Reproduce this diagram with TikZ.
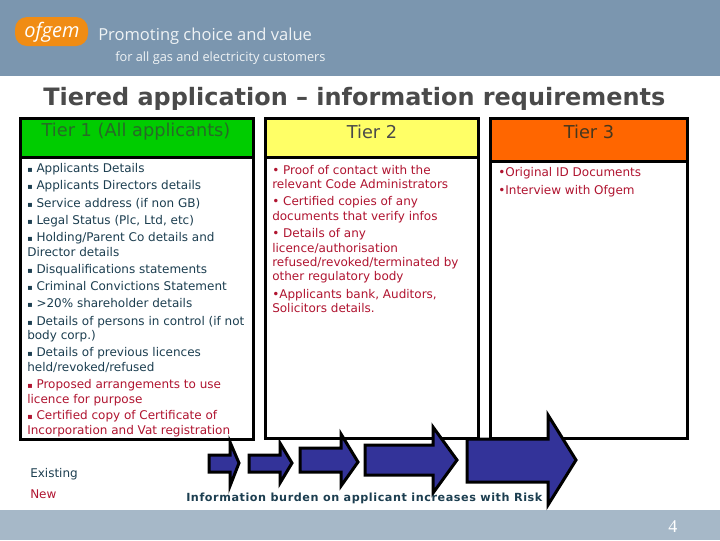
\documentclass[tikz,border=0pt]{standalone}
\usepackage{fontspec}
\setmainfont{DejaVu Sans}
\newfontfamily\logofont{Open Sans}
\newfontfamily\numfont{Liberation Serif}
\definecolor{bandtop}{RGB}{123,150,175}
\definecolor{bandbot}{RGB}{166,184,200}
\definecolor{logoorange}{RGB}{240,140,20}
\definecolor{tiergreen}{RGB}{0,204,0}
\definecolor{tieryellow}{RGB}{255,255,102}
\definecolor{tierorange}{RGB}{255,102,0}
\definecolor{arrowblue}{RGB}{51,51,153}
\definecolor{tealtext}{RGB}{28,62,80}
\definecolor{redtext}{RGB}{176,20,48}
\definecolor{greytext}{RGB}{74,74,74}
\newcommand{\tb}{{\fontsize{6}{6}\selectfont ▪} }
\tikzset{
  tierbox/.style={draw=black,line width=2.25pt},
  burden/.style={draw=black,line width=2.25pt,fill=arrowblue},
  txt/.style={anchor=base west,inner sep=0pt,font=\fontsize{9}{10}\selectfont},
  existing/.style={txt,text=tealtext},
  newitem/.style={txt,text=redtext},
  tierhead/.style={anchor=base,inner sep=0pt,font=\fontsize{13.3}{15}\selectfont},
}

\begin{document}
\begin{tikzpicture}[x=0.75pt,y=0.75pt,yscale=-1,xscale=1]
\useasboundingbox (0,0) rectangle (720,540);

%Shape: bands
\fill [bandtop] (0,0) rectangle (720,76);
\fill [bandbot] (0,510) rectangle (720,540);
%Shape: logo
\fill [logoorange, rounded corners=9pt] (15,17) rectangle (88,46);

%Shape: Tier 1
\draw [tierbox, fill=tiergreen] (20,118) rectangle (253,157);
\draw [tierbox, fill=white] (20,157) rectangle (253,439);
%Shape: Tier 2
\draw [tierbox, fill=tieryellow] (265,118) rectangle (478,157);
\draw [tierbox, fill=white] (265,157) rectangle (478,438);
%Shape: Tier 3
\draw [tierbox, fill=tierorange] (490,118) rectangle (687,161);
\draw [tierbox, fill=white] (490,161) rectangle (687,438);

%Shape: Right Arrow
\draw [burden] (209,455) -- (230,455) -- (230,442) -- (239,463) -- (230,486) -- (230,472) -- (209,472) -- cycle ;
%Shape: Right Arrow
\draw [burden] (249,455) -- (280,455) -- (280,443) -- (292,463) -- (280,483) -- (280,472) -- (249,472) -- cycle ;
%Shape: Right Arrow
\draw [burden] (300,448) -- (341,448) -- (341,434) -- (358,462) -- (341,486) -- (341,472) -- (300,472) -- cycle ;
%Shape: Right Arrow
\draw [burden] (365,445) -- (433,445) -- (433,427) -- (457,460) -- (433,493) -- (433,475) -- (365,475) -- cycle ;
%Shape: Right Arrow
\draw [burden] (467,439) -- (548,439) -- (548,415) -- (576,460) -- (548,505) -- (548,482) -- (467,482) -- cycle ;

% Text Node
\draw (24,37) node (logoname) [anchor=base west,inner sep=0pt,text=white,font=\logofont\itshape\fontsize{15}{15}\selectfont] {ofgem};
\draw (98,40) node (slogan) [anchor=base west,inner sep=0pt,text=white!88!bandtop,font=\logofont\fontsize{12.4}{14}\selectfont] {Promoting choice and value};
\draw (115,61) node (customers) [anchor=base west,inner sep=0pt,text=white!88!bandtop,font=\logofont\fontsize{9.6}{12}\selectfont] {for all gas and electricity customers};
% Text Node
\draw (43,105) node (title) [anchor=base west,inner sep=0pt,text=greytext,font=\bfseries\fontsize{17.95}{20}\selectfont] {Tiered application -- information requirements};
% Text Node
\draw (136,136) node (tieronehead) [tierhead,text={rgb,255:red,40;green,105;blue,40}] {Tier 1 (All applicants)};
\draw (372,138) node (tiertwohead) [tierhead,text=greytext] {Tier 2};
\draw (589,138) node (tierthreehead) [tierhead,text={rgb,255:red,70;green,55;blue,30}] {Tier 3};

% Text Node
\draw (27,172) node (ta) [existing] {\tb Applicants Details};
\draw (27,189) node (tb) [existing] {\tb Applicants Directors details};
\draw (27,207) node (tc) [existing] {\tb Service address (if non GB)};
\draw (27,224) node (td) [existing] {\tb Legal Status (Plc, Ltd, etc)};
\draw (27,241) node (te) [existing] {\tb Holding/Parent Co details and};
\draw (27,256) node (tf) [existing] {Director details};
\draw (27,273) node (tg) [existing] {\tb Disqualifications statements};
\draw (27,290) node (th) [existing] {\tb Criminal Convictions Statement};
\draw (27,307) node (ti) [existing] {\tb >20\% shareholder details};
\draw (27,325) node (tj) [existing] {\tb Details of persons in control (if not};
\draw (27,339) node (tk) [existing] {body corp.)};
\draw (27,356) node (tl) [existing] {\tb Details of previous licences};
\draw (27,371) node (tm) [existing] {held/revoked/refused};
\draw (27,388) node (tn) [newitem] {\tb Proposed arrangements to use};
\draw (27,403) node (to) [newitem] {licence for purpose};
\draw (27,419) node (tp) [newitem] {\tb Certified copy of Certificate of};
\draw (27,434) node (tq) [newitem] {Incorporation and Vat registration};

% Text Node
\draw (272,174) node (pa) [newitem] {• Proof of contact with the};
\draw (272,188) node (pb) [newitem] {relevant Code Administrators};
\draw (272,205) node (pc) [newitem] {• Certified copies of any};
\draw (272,220) node (pd) [newitem] {documents that verify infos};
\draw (272,237) node (pe) [newitem] {• Details of any};
\draw (272,252) node (pf) [newitem] {licence/authorisation};
\draw (272,266) node (pg) [newitem] {refused/revoked/terminated by};
\draw (272,280) node (ph) [newitem] {other regulatory body};
\draw (272,298) node (pi) [newitem] {•Applicants bank, Auditors,};
\draw (272,312) node (pj) [newitem] {Solicitors details.};

% Text Node
\draw (498,176) node (qa) [newitem] {•Original ID Documents};
\draw (498,194) node (qb) [newitem] {•Interview with Ofgem};

% Text Node
\draw (30,477) node (legendold) [existing] {Existing};
\draw (30,498) node (legendnew) [newitem] {New};
\draw (186,501) node (caption) [anchor=base west,inner sep=0pt,text=tealtext,font=\bfseries\fontsize{8.4}{10}\selectfont\addfontfeature{LetterSpace=5}] {Information burden on applicant increases with Risk};
\draw (668,532) node (pagenum) [anchor=base west,inner sep=0pt,text=white,font=\numfont\fontsize{13.5}{15}\selectfont] {4};

\end{tikzpicture}
\end{document}
